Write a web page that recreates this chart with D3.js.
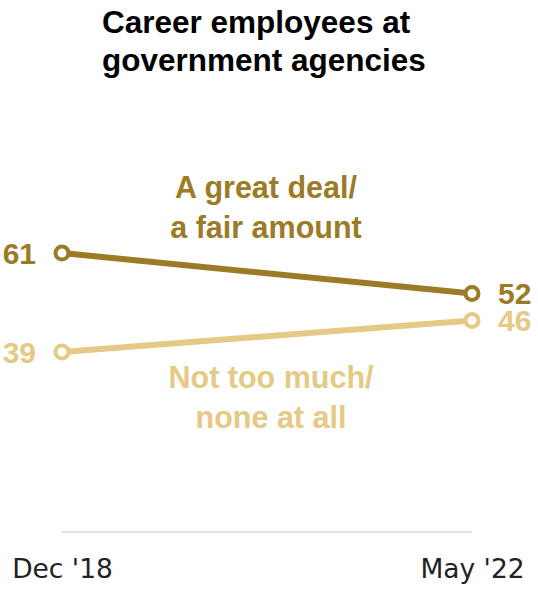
<!DOCTYPE html>
<html>
<head>
<meta charset="utf-8">
<script src="https://cdn.jsdelivr.net/npm/d3@7"></script>
<style>
  html, body { margin: 0; padding: 0; background: #fff; }
  svg { display: block; }
  text { font-family: "Liberation Sans", Arial, sans-serif; }
  .tick text { font-family: "DejaVu Sans", "Liberation Sans", sans-serif; }
</style>
</head>
<body>
<div id="chart"></div>
<script>
// ---- Data ----
const periods = ["Dec '18", "May '22"];
const greatDeal = [61, 52];      // A great deal / a fair amount
const notTooMuch = [39, 46];     // Not too much / none at all
const titleLines = ["Career employees at", "government agencies"];
const seriesNames = [["A great deal/", "a fair amount"], ["Not too much/", "none at all"]];

const W = 538, H = 589;
const darkGold = "#9c7b26";
const lightGold = "#e5c985";

const svg = d3.select("#chart").append("svg")
  .attr("width", W).attr("height", H);

const x = d3.scalePoint().domain(periods).range([62, 472]);
const y = d3.scaleLinear().domain([0, 100]).range([527.5, 77.5]);

// Title
svg.append("text")
  .attr("font-size", 31.5).attr("font-weight", "bold").attr("fill", "#000")
  .selectAll("tspan").data(titleLines).join("tspan")
  .attr("x", 102).attr("y", (d, i) => 33 + i * 38)
  .text(d => d);

// Baseline axis
const axisY = 532;
const xAxis = svg.append("g").attr("transform", `translate(0,${axisY})`)
  .call(d3.axisBottom(x).tickSize(0).tickPadding(27));
xAxis.select(".domain").attr("stroke", "#d9d9d9").attr("stroke-width", 1.5)
  .attr("d", `M${x(periods[0])},0H${x(periods[1])}`);
xAxis.selectAll(".tick text")
  .attr("font-size", 26.5).attr("fill", "#222");

const series = [
  { vals: greatDeal, color: darkGold, label: seriesNames[0] },
  { vals: notTooMuch, color: lightGold, label: seriesNames[1] }
];

const line = d3.line().x((d, i) => x(periods[i])).y(d => y(d));

series.forEach(s => {
  svg.append("path")
    .datum(s.vals)
    .attr("d", line)
    .attr("fill", "none")
    .attr("stroke", s.color)
    .attr("stroke-width", 6);
  svg.selectAll(null).data(s.vals).join("circle")
    .attr("cx", (d, i) => x(periods[i]))
    .attr("cy", d => y(d))
    .attr("r", 6.5)
    .attr("fill", "#fff")
    .attr("stroke", s.color)
    .attr("stroke-width", 4);
  svg.selectAll(null).data(s.vals).join("text")
    .attr("x", (d, i) => i === 0 ? x(periods[i]) - 26 : x(periods[i]) + 26)
    .attr("y", d => y(d))
    .attr("dy", "0.35em")
    .attr("text-anchor", (d, i) => i === 0 ? "end" : "start")
    .attr("font-size", 30).attr("font-weight", "bold")
    .attr("fill", s.color)
    .text(d => d);
});

// Series labels
function seriesLabel(lines, cx, baseY, color) {
  const t = svg.append("text")
    .attr("text-anchor", "middle")
    .attr("font-size", 30.5).attr("font-weight", "bold").attr("fill", color);
  t.selectAll("tspan").data(lines).join("tspan")
    .attr("x", cx).attr("y", (d, i) => baseY + i * 39.5)
    .text(d => d);
}
seriesLabel(seriesNames[0], 266, 198, darkGold);
seriesLabel(seriesNames[1], 271, 388, lightGold);
</script>
</body>
</html>
